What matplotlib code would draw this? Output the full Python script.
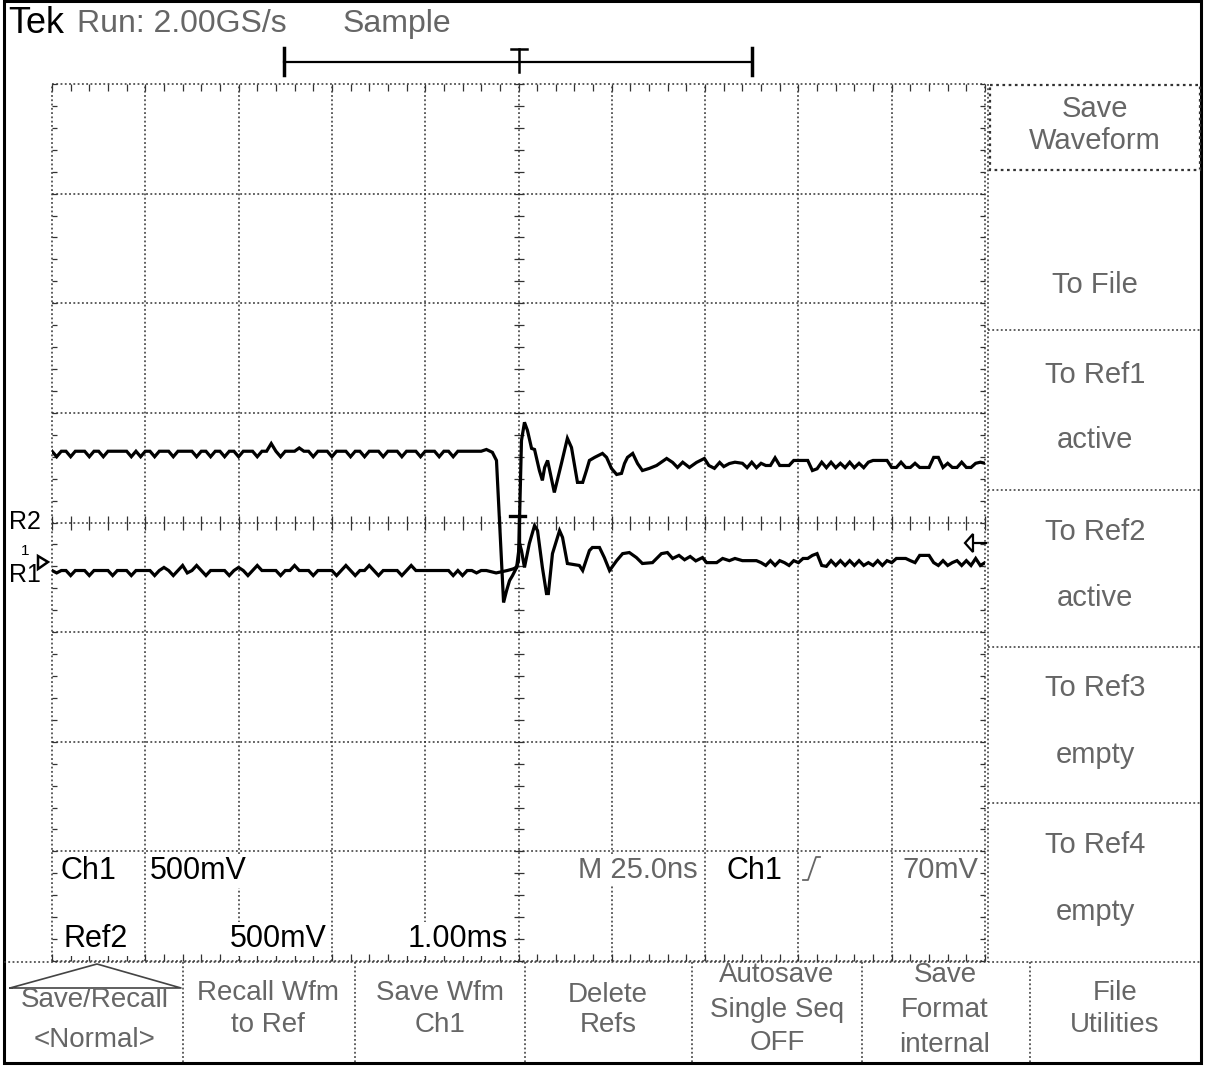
import numpy as np
import matplotlib
matplotlib.use('Agg')
import matplotlib.pyplot as plt
from matplotlib.patches import Polygon, Rectangle

W, H = 1207, 1066

# ---------------- data (time in ns, amplitude in mV, screen centre = 0) ----------------
# uniformly sampled noisy segments, 1.25 ns spacing
upper_pre = [
    325, 300, 325, 325, 300, 325, 325, 325, 300, 325,
    325, 300, 325, 325, 325, 325, 325, 300, 325, 300,
    325, 325, 300, 325, 325, 325, 300, 325, 325, 325,
    325, 300, 325, 325, 300, 325, 325, 300, 325, 325,
    300, 325, 325, 325, 300, 325, 325, 360, 325, 300,
    325, 325, 325, 340, 325, 325, 300, 325, 325, 325,
    300, 325, 325, 325, 300, 325, 325, 300, 325, 325,
    325, 300, 325, 325, 325, 300, 325, 325, 325, 300,
    325, 325, 325, 300, 325, 325, 300, 325, 325, 325,
    325, 325, 325]
lower_pre = [
    -219, -230, -219, -219, -242, -219, -219, -219, -242, -219,
    -219, -219, -219, -242, -219, -219, -219, -242, -219, -219,
    -219, -219, -242, -219, -205, -219, -242, -219, -196, -230,
    -219, -196, -219, -242, -219, -219, -219, -219, -242, -219,
    -205, -219, -242, -219, -196, -219, -219, -219, -219, -242,
    -219, -219, -196, -219, -219, -219, -242, -219, -219, -219,
    -219, -242, -219, -196, -219, -242, -219, -219, -196, -219,
    -242, -219, -219, -219, -219, -242, -219, -196, -219, -219,
    -219, -219, -219, -219, -219, -219, -242, -219, -242, -219,
    -219, -230, -219]
pre_start, pre_step = -125.0, 1.25

upper_mid_t = [-8.6, -7.0, -5.9, -4.0, -3.2, -2.4, -1.6, -0.5, 0.0,
               0.8, 1.6, 2.4, 3.5, 4.3, 5.6, 6.4, 7.0, 7.8, 9.6,
               11.5, 13.1, 14.2, 15.8, 17.2, 18.2, 19.0, 20.4, 22.5, 23.6,
               24.9, 26.3, 27.6, 28.4, 29.2, 30.6, 31.9, 33.2, 35.1, 37.0,
               39.7, 41.3, 42.6, 44.0, 45.8, 47.7, 49.8, 51.0, 52.5, 53.9,
               55.0, 56.5, 58.0]
upper_mid_v = [333, 320, 283, -365, -311, -265, -242, -205, -174,
               374, 457, 420, 338, 333, 237, 192, 251, 283, 137,
               269, 384, 342, 183, 183, 237, 283, 297, 315, 297,
               247, 219, 224, 269, 297, 315, 269, 237, 247, 260,
               292, 274, 251, 275, 251, 274, 292, 260, 247, 274,
               255, 269, 275]
lower_mid_t = [-8.6, -6.0, -3.0, -1.5, -0.5, 0.3, 0.8, 1.6, 2.9, 4.3,
               5.1, 6.4, 7.5, 8.0, 9.1, 11.0, 11.8, 13.1, 16.3, 17.2,
               19.0, 19.8, 21.7, 23.0, 24.4, 26.3, 27.9, 29.7, 31.6, 33.2,
               35.9, 38.3, 39.9, 41.3, 43.0, 44.5, 46.0, 47.5, 49.3, 50.4,
               53.1, 54.7, 56.5, 58.0]
lower_mid_v = [-219, -230, -219, -212, -205, -96, -128, -205, -96, -14,
               -37, -205, -324, -324, -142, -37, -68, -187, -196, -219,
               -128, -114, -114, -160, -219, -174, -142, -137, -160, -187,
               -183, -142, -137, -164, -150, -170, -155, -175, -160, -183,
               -183, -164, -174, -164]

upper_post = [270, 250, 275, 250, 270, 260, 260, 295, 260, 260, 260,
              283, 283, 283, 283, 237, 245,
              275, 250, 275, 250, 270, 250, 275, 250, 270, 250, 275,
              283, 283, 283, 283, 251, 251, 275, 251, 251, 270, 251, 251, 251,
              297, 297, 251, 270, 251, 251, 275, 251, 251, 270, 275, 270]
lower_post = [-174, -174, -174, -174, -183,
              -196, -174, -196, -174, -183, -196, -174, -183,
              -164, -164, -150, -142, -196, -200,
              -174, -196, -174, -196, -174, -196, -174, -196, -183, -196, -174, -196, -174, -183,
              -164, -164, -164, -174, -183, -150, -150, -150, -183, -196,
              -174, -196, -183, -174, -196, -174, -196, -164, -196, -183]
post_start, post_step = 60.0, 1.25

# screen settings
time_per_div = 25.0     # ns
volt_per_div = 500.0    # mV
n_xdiv, n_ydiv = 10, 8

top_text = ["Tek", "Run: 2.00GS/s", "Sample"]
side_menu = [("Save\nWaveform", 125), ("To File", 285), ("To Ref1", 375), ("active", 440),
             ("To Ref2", 532), ("active", 598), ("To Ref3", 688), ("empty", 755),
             ("To Ref4", 845), ("empty", 912)]
bottom_menu = [(95, ["Save/Recall", "<Normal>"], [1000, 1040]),
               (268, ["Recall Wfm", "to Ref"], [993, 1025]),
               (440, ["Save Wfm", "Ch1"], [993, 1025]),
               (608, ["Delete", "Refs"], [995, 1025]),
               (777, ["Autosave", "Single Seq", "OFF"], [975, 1010, 1043]),
               (945, ["Save", "Format", "internal"], [975, 1010, 1045]),
               (1115, ["File", "Utilities"], [993, 1025])]

# ---------------- build traces ----------------
def seg(start, step, vals):
    return start + step * np.arange(len(vals)), np.array(vals, float)

t1, v1 = seg(pre_start, pre_step, upper_pre)
t3, v3 = seg(post_start, post_step, upper_post)
up_t = np.concatenate([t1, upper_mid_t, t3])
up_v = np.concatenate([v1, upper_mid_v, v3])
t1, v1 = seg(pre_start, pre_step, lower_pre)
t3, v3 = seg(post_start, post_step, lower_post)
lo_t = np.concatenate([t1, lower_mid_t, t3])
lo_v = np.concatenate([v1, lower_mid_v, v3])

# ---------------- figure ----------------
SANS = ['Liberation Sans', 'DejaVu Sans']
GRAY = '#666666'

fig = plt.figure(figsize=(W / 100, H / 100), dpi=100)
fig.patch.set_facecolor('white')

gx0, gx1, gy0, gy1 = 52, 985, 84, 961
ax = fig.add_axes([gx0 / W, 1 - gy1 / H, (gx1 - gx0) / W, (gy1 - gy0) / H])
xmax = time_per_div * n_xdiv / 2
ymax = volt_per_div * n_ydiv / 2
ax.set_xlim(-xmax, xmax)
ax.set_ylim(-ymax, ymax)
ax.axis('off')
ax.patch.set_alpha(0)
ax.set_zorder(2)

dot = (0, (1.2, 1.6))
gcol = '#333333'
xs = np.arange(-xmax, xmax + 0.1, time_per_div)
ys = np.arange(-ymax, ymax + 0.1, volt_per_div)
ax.vlines(xs, -ymax, ymax, colors=gcol, linestyles=dot, linewidth=1.1, clip_on=False)
ax.hlines(ys, -xmax, xmax, colors=gcol, linestyles=dot, linewidth=1.1, clip_on=False)

# minor ticks
px_x = time_per_div / ((gx1 - gx0) / n_xdiv)
px_y = volt_per_div / ((gy1 - gy0) / n_ydiv)
mx = np.arange(-xmax, xmax + 0.1, time_per_div / 5)
my = np.arange(-ymax, ymax + 0.1, volt_per_div / 5)
tl = 7
ax.vlines(mx, ymax - tl * px_y, ymax, colors=gcol, linewidth=0.9, clip_on=False)
ax.vlines(mx, -ymax, -ymax + tl * px_y, colors=gcol, linewidth=0.9, clip_on=False)
ax.vlines(mx, -tl * px_y, tl * px_y, colors=gcol, linewidth=0.9, clip_on=False)
ax.hlines(my, -xmax, -xmax + 5 * px_x, colors=gcol, linewidth=0.9, clip_on=False)
ax.hlines(my, xmax - 5 * px_x, xmax, colors=gcol, linewidth=0.9, clip_on=False)
ax.hlines(my, -5 * px_x, 5 * px_x, colors=gcol, linewidth=0.9, clip_on=False)

ax.plot(up_t, up_v, color='black', linewidth=2.3, solid_joinstyle='miter', zorder=5)
ax.plot(lo_t, lo_v, color='black', linewidth=2.3, solid_joinstyle='miter', zorder=5)

# ---------------- overlay (screen furniture) ----------------
ov = fig.add_axes([0, 0, 1, 1])
ov.set_xlim(0, W)
ov.set_ylim(H, 0)
ov.axis('off')
ov.patch.set_alpha(0)
ov.set_zorder(3)

# outer frame
ov.add_patch(Rectangle((4, 1), 1197, 1062, fill=False, edgecolor='black', linewidth=2.2))

# top status
ov.text(8, 33, top_text[0], family=SANS, fontsize=26, color='black', va='baseline', ha='left')
ov.text(77, 32, top_text[1], family=SANS, fontsize=23, color=GRAY, va='baseline', ha='left')
ov.text(343, 32, top_text[2], family=SANS, fontsize=23, color=GRAY, va='baseline', ha='left')

# record bar
ov.plot([284, 752], [62, 62], color='black', lw=1.6)
ov.plot([284, 284], [48, 75], color='black', lw=2.5)
ov.plot([752, 752], [48, 75], color='black', lw=2.5)
ov.plot([511, 527], [49, 49], color='black', lw=1.8)
ov.plot([519, 519], [49, 72], color='black', lw=1.8)

# side menu
ov.plot([988, 988], [84, 962], color=gcol, lw=1.1, ls=dot)
ov.add_patch(Rectangle((990, 85), 210, 85, fill=False, edgecolor=gcol, lw=1.6, ls=dot))
for yy in [330, 490, 647, 803]:
    ov.plot([988, 1200], [yy, yy], color=gcol, lw=1.1, ls=dot)
for txt, yy in side_menu:
    ov.text(1095, yy, txt, family=SANS, fontsize=21, color=GRAY, ha='center', va='center',
            linespacing=1.15)

# bottom menu
ov.plot([4, 1200], [962, 962], color=gcol, lw=1.1, ls=dot)
for xx in [183, 355, 525, 692, 862, 1030]:
    ov.plot([xx, xx], [962, 1063], color=gcol, lw=1.1, ls=dot)
ov.plot([10, 97, 181, 10], [988, 964, 988, 988], color='#444444', lw=1.2)
for cx, lines, yl in bottom_menu:
    for txt, yy in zip(lines, yl):
        ov.text(cx, yy, txt, family=SANS, fontsize=20, color=GRAY, ha='center', va='center')

# readouts inside graticule
wb = dict(facecolor='white', edgecolor='none', pad=1.5)
fs = 22
ov.text(60, 879, "Ch1", family=SANS, fontsize=fs, color='black', ha='left', va='baseline', bbox=wb)
ov.text(150, 879, "500mV", family=SANS, fontsize=fs, color='black', ha='left', va='baseline', bbox=wb)
ov.text(63, 947, "Ref2", family=SANS, fontsize=fs, color='black', ha='left', va='baseline', bbox=wb)
ov.text(327, 947, "500mV", family=SANS, fontsize=fs, color='black', ha='right', va='baseline', bbox=wb)
ov.text(508, 947, "1.00ms", family=SANS, fontsize=fs, color='black', ha='right', va='baseline', bbox=wb)
ov.text(698, 878, "M 25.0ns", family=SANS, fontsize=21, color=GRAY, ha='right', va='baseline', bbox=wb)
ov.text(727, 879, "Ch1", family=SANS, fontsize=fs, color='black', ha='left', va='baseline', bbox=wb)
ov.plot([803, 808, 816, 820], [880, 880, 857, 857], color=GRAY, lw=1.3)
ov.text(978, 878, "70mV", family=SANS, fontsize=21, color=GRAY, ha='right', va='baseline', bbox=wb)

# channel / reference markers
ov.text(9, 522, "R2", family=SANS, fontsize=18, color='black', ha='left', va='center')
ov.text(9, 575, "R1", family=SANS, fontsize=18, color='black', ha='left', va='center')
ov.text(21, 551, "1", family=SANS, fontsize=11, color='black', ha='left', va='center')
ov.add_patch(Polygon([[38, 556], [38, 569], [48, 562]], closed=True, facecolor='white',
                     edgecolor='black', lw=1.8))
ov.add_patch(Polygon([[965, 543], [973, 534], [973, 552]], closed=True, facecolor='white',
                     edgecolor='black', lw=1.6, zorder=6))
ov.plot([973, 986], [543, 543], color='black', lw=1.6)

# trigger T marker
ov.plot([510, 525], [516, 516], color='black', lw=2.4)
ov.plot([519, 519], [516, 545], color='black', lw=2.4)

fig.savefig('out.png', dpi=100, facecolor='white')
